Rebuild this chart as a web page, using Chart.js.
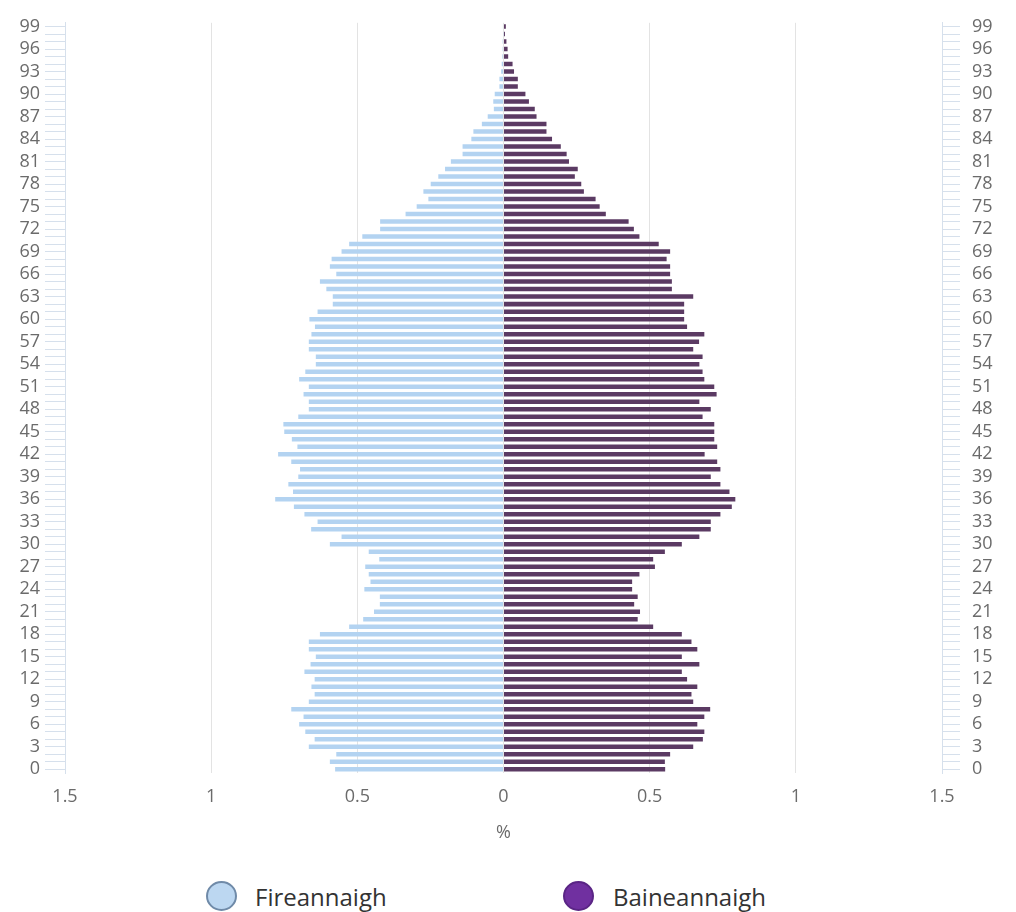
<!DOCTYPE html>
<html>
<head>
<meta charset="utf-8">
<script src="https://cdn.jsdelivr.net/npm/chart.js@4.4.0/dist/chart.umd.min.js"></script>
<style>
  html, body { margin: 0; padding: 0; background: #ffffff; }
  #wrap { position: absolute; left: 0; top: 0; width: 1016px; height: 860px; }
  #legend { position: absolute; left: 0; top: 878px; width: 1016px; height: 34px; font-family: "Open Sans", sans-serif; font-size: 24px; color: #333333; }
  .item { position: absolute; top: 0; height: 34px; line-height: 34px; white-space: nowrap; }
  .dot { position: absolute; top: 3px; width: 31px; height: 30px; border-radius: 50%; box-sizing: border-box; }
  .lbl { position: absolute; top: 2px; }
</style>
</head>
<body>
<div id="wrap"><canvas id="c"></canvas></div>
<div id="legend">
  <div class="item" style="left:206px;"><span class="dot" style="left:0;background:#bcd7f1;border:2px solid #6f8aa8;"></span><span class="lbl" style="left:49px;">Fireannaigh</span></div>
  <div class="item" style="left:563px;"><span class="dot" style="left:0;background:#7030a0;border:2px solid #5a2585;"></span><span class="lbl" style="left:50px;">Baineannaigh</span></div>
</div>
<script>
const ages = [];
for (let i = 0; i <= 99; i++) ages.push(String(i));

const seriesNames = ["Fireannaigh", "Baineannaigh"];

const maleValues = [
  0.576, 0.594, 0.572, 0.666, 0.646, 0.678, 0.699, 0.684, 0.726, 0.666,
  0.646, 0.657, 0.646, 0.681, 0.660, 0.642, 0.666, 0.666, 0.628, 0.528,
  0.480, 0.443, 0.423, 0.423, 0.476, 0.455, 0.461, 0.473, 0.425, 0.461,
  0.594, 0.554, 0.658, 0.636, 0.681, 0.717, 0.781, 0.720, 0.736, 0.702,
  0.696, 0.726, 0.771, 0.705, 0.724, 0.750, 0.753, 0.702, 0.666, 0.666,
  0.684, 0.666, 0.699, 0.678, 0.642, 0.642, 0.666, 0.666, 0.657, 0.645,
  0.664, 0.636, 0.584, 0.584, 0.606, 0.628, 0.572, 0.594, 0.588, 0.554,
  0.528, 0.483, 0.422, 0.422, 0.335, 0.297, 0.257, 0.274, 0.249, 0.223,
  0.200, 0.180, 0.140, 0.140, 0.110, 0.103, 0.074, 0.054, 0.033, 0.035,
  0.030, 0.014, 0.014, 0.008, 0.006, 0.004, 0.003, 0.003, 0.001, 0.002
];

const femaleValues = [
  0.553, 0.552, 0.570, 0.649, 0.682, 0.687, 0.663, 0.687, 0.707, 0.649,
  0.643, 0.663, 0.628, 0.610, 0.670, 0.610, 0.663, 0.643, 0.610, 0.512,
  0.459, 0.467, 0.447, 0.459, 0.440, 0.440, 0.465, 0.518, 0.512, 0.552,
  0.610, 0.670, 0.709, 0.709, 0.742, 0.781, 0.793, 0.773, 0.742, 0.709,
  0.742, 0.731, 0.688, 0.731, 0.721, 0.721, 0.721, 0.681, 0.709, 0.670,
  0.729, 0.721, 0.687, 0.681, 0.670, 0.681, 0.649, 0.669, 0.687, 0.628,
  0.618, 0.618, 0.618, 0.649, 0.576, 0.576, 0.570, 0.570, 0.558, 0.570,
  0.531, 0.465, 0.446, 0.428, 0.350, 0.329, 0.315, 0.275, 0.266, 0.244,
  0.254, 0.224, 0.216, 0.196, 0.166, 0.147, 0.147, 0.113, 0.107, 0.087,
  0.075, 0.049, 0.049, 0.036, 0.031, 0.016, 0.014, 0.010, 0.005, 0.008
];

const xTickValues = [-1.5, -1, -0.5, 0, 0.5, 1, 1.5];
const axisTitle = "%";

const tickFont = { family: "Open Sans", size: 18 };
const tickColor = "#6b6b6b";
const axisLineColor = "#d6e0ec";

new Chart(document.getElementById("c"), {
  type: "bar",
  data: {
    labels: ages,
    datasets: [
      {
        label: seriesNames[0],
        data: maleValues.map(v => -v),
        backgroundColor: "#b3d3f1",
        yAxisID: "y",
        categoryPercentage: 1.0,
        barPercentage: 0.6
      },
      {
        label: seriesNames[1],
        data: femaleValues,
        backgroundColor: "#5b3a63",
        yAxisID: "y",
        categoryPercentage: 1.0,
        barPercentage: 0.6
      }
    ]
  },
  options: {
    indexAxis: "y",
    responsive: true,
    maintainAspectRatio: false,
    animation: false,
    layout: { padding: { top: 14, left: 0, right: 0, bottom: 0 } },
    plugins: {
      legend: { display: false },
      tooltip: { enabled: false }
    },
    scales: {
      x: {
        type: "linear",
        stacked: true,
        min: -1.5,
        max: 1.5,
        afterBuildTicks: (scale) => { scale.ticks = xTickValues.map(v => ({ value: v })); },
        ticks: {
          font: tickFont,
          color: tickColor,
          padding: 13,
          callback: (v) => String(Math.abs(v))
        },
        grid: { color: "#e3e3e3", drawTicks: false, lineWidth: 1 },
        border: { display: false },
        title: {
          display: true,
          text: axisTitle,
          color: tickColor,
          font: { family: "Open Sans", size: 18 },
          padding: { top: 0, bottom: 16 }
        },
        afterFit: (scale) => { scale.height = 87; }
      },
      y: {
        type: "category",
        position: "left",
        stacked: true,
        reverse: true,
        offset: true,
        ticks: {
          autoSkip: false,
          font: tickFont,
          color: tickColor,
          padding: 5,
          callback: function (v, i) { return i % 3 === 0 ? ages[i] : ""; }
        },
        grid: {
          drawOnChartArea: false,
          drawTicks: true,
          tickLength: 20,
          tickColor: axisLineColor,
          offset: false
        },
        border: { display: true, color: axisLineColor },
        afterFit: (scale) => { scale.width = 65; }
      },
      y2: {
        type: "category",
        position: "right",
        labels: ages,
        reverse: true,
        offset: true,
        ticks: {
          autoSkip: false,
          font: tickFont,
          color: tickColor,
          padding: 12,
          callback: function (v, i) { return i % 3 === 0 ? ages[i] : ""; }
        },
        grid: {
          drawOnChartArea: false,
          drawTicks: true,
          tickLength: 18,
          tickColor: axisLineColor,
          offset: false
        },
        border: { display: true, color: axisLineColor },
        afterFit: (scale) => { scale.width = 74; }
      }
    }
  }
});
</script>
</body>
</html>
